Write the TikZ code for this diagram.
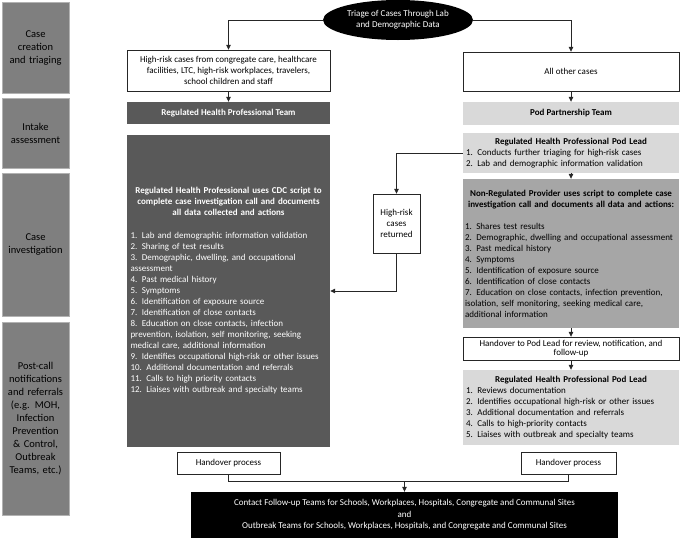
\documentclass[tikz,border=0pt]{standalone}
\usepackage{fontspec}
\setmainfont{Carlito}
\usepackage{tikz}
\usetikzlibrary{positioning,shapes.geometric,arrows.meta}
\setlength{\parindent}{0pt}
\definecolor{sidegray}{HTML}{7F7F7F}
\definecolor{darkgray}{HTML}{595959}
\definecolor{midgray}{HTML}{A6A6A6}
\definecolor{lightgray}{HTML}{D9D9D9}
\definecolor{linegray}{HTML}{262626}

\begin{document}
\begin{tikzpicture}[x=1pt,y=-1pt,>={Triangle[length=5pt,width=4.5pt]},
  side/.style = {fill=sidegray, draw=gray!60, minimum width=67pt, text width=64pt, inner sep=0pt, align=center, font=\fontsize{10.5}{13}\selectfont},
  box/.style = {rectangle, inner sep=0pt, font=\fontsize{9}{11}\selectfont},
  plain/.style = {box, draw=linegray, fill=white, align=center},
  dark/.style = {box, fill=darkgray, text=white},
  light/.style = {box, fill=lightgray},
  mid/.style = {box, fill=midgray},
  blk/.style = {box, fill=black, text=white, align=center},
  conn/.style = {draw=linegray, line width=0.8pt}]
\useasboundingbox (0,0) rectangle (685,544);

% stage labels
\node[side, minimum height=91pt] (s1) at (35.5,47.5) {Case\\ creation\\ and triaging};
\node[side, minimum height=70pt] (s2) at (35.5,133) {Intake\\ assessment};
\node[side, minimum height=143pt] (s3) at (35.5,244.5) {Case\\ investigation};
\node[side, minimum height=193pt] (s4) at (35.5,418.5) {Post-call\\ notifications\\ and referrals\\ (e.g. MOH,\\ Infection\\ Prevention\\ \& Control,\\ Outbreak\\ Teams, etc.)};

% triage
\node[ellipse, fill=black, text=white, minimum width=150pt, minimum height=40pt, inner sep=0pt, align=center, font=\fontsize{9}{11}\selectfont] (tri) at (398,20) {Triage of Cases Through Lab\\ and Demographic Data};

% left column
\node[plain, minimum width=203pt, minimum height=41pt] (hr) at (228.5,70.5) {High-risk cases from congregate care, healthcare\\ facilities, LTC, high-risk workplaces, travelers,\\ school children and staff};
\node[dark, minimum width=203pt, minimum height=22pt, font=\fontsize{9}{11}\selectfont\bfseries] (rhpt) at (228.5,113) {Regulated Health Professional Team};
\node[dark, minimum width=203pt, minimum height=312pt, text width=196pt, align=left] (rhp) at (228.5,291) {{\centering\bfseries Regulated Health Professional uses CDC script to\\ complete case investigation call and documents\\ all data collected and actions\par}\vspace{12pt}
1. Lab and demographic information validation\\
2. Sharing of test results\\
3. Demographic, dwelling, and occupational\\
assessment\\
4. Past medical history\\
5. Symptoms\\
6. Identification of exposure source\\
7. Identification of close contacts\\
8. Education on close contacts, infection\\
prevention, isolation, self monitoring, seeking\\
medical care, additional information\\
9. Identifies occupational high-risk or other issues\\
10. Additional documentation and referrals\\
11. Calls to high priority contacts\\
12. Liaises with outbreak and specialty teams};
\node[plain, minimum width=103pt, minimum height=22pt] (hand1) at (228.5,463) {Handover process};

% returned cases
\node[plain, minimum width=47pt, minimum height=59pt] (hrr) at (396.5,223.5) {High-risk\\ cases\\ returned};

% right column
\node[plain, minimum width=216pt, minimum height=39pt] (other) at (571,71.5) {All other cases};
\node[light, minimum width=216pt, minimum height=23pt, font=\fontsize{9}{11}\selectfont\bfseries] (pod) at (571,113.5) {Pod Partnership Team};
\node[light, minimum width=216pt, minimum height=40pt, text width=210pt, align=left] (lead1) at (571,153) {{\centering\bfseries Regulated Health Professional Pod Lead\par}
1. Conducts further triaging for high-risk cases\\
2. Lab and demographic information validation};
\node[mid, minimum width=216pt, minimum height=149pt, text width=212pt, align=left] (nrp) at (571,253.5) {{\centering\bfseries Non-Regulated Provider uses script to complete case\\ investigation call and documents all data and actions:\par}\vspace{11pt}
1. Shares test results\\
2. Demographic, dwelling and occupational assessment\\
3. Past medical history\\
4. Symptoms\\
5. Identification of exposure source\\
6. Identification of close contacts\\
7. Education on close contacts, infection prevention,\\
isolation, self monitoring, seeking medical care,\\
additional information};
\node[plain, minimum width=216pt, minimum height=23pt, font=\fontsize{9}{9.5}\selectfont] (h2p) at (571,348.5) {Handover to Pod Lead for review, notification, and\\ follow-up};
\node[light, minimum width=216pt, minimum height=75pt, text width=210pt, align=left] (lead2) at (571,407.5) {{\centering\bfseries Regulated Health Professional Pod Lead\par}
1. Reviews documentation\\
2. Identifies occupational high-risk or other issues\\
3. Additional documentation and referrals\\
4. Calls to high-priority contacts\\
5. Liaises with outbreak and specialty teams};
\node[plain, minimum width=95pt, minimum height=22pt] (hand2) at (568.5,463) {Handover process};

% follow-up teams
\node[blk, minimum width=427pt, minimum height=46pt, font=\fontsize{9}{11.5}\selectfont] (teams) at (404.5,515) {Contact Follow-up Teams for Schools, Workplaces, Hospitals, Congregate and Communal Sites\\ and\\ Outbreak Teams for Schools, Workplaces, Hospitals, and Congregate and Communal Sites};
\coordinate (merge) at (404.5,481);

\draw[conn,->] (tri.west) -| (hr.north);
\draw[conn,->] (tri.east) -| (other.north);
\draw[conn,->] (hr) -- (rhpt);
\draw[conn,->] (other) -- (pod);
\draw[conn,->] (lead1.west) -| (hrr.north);
\draw[conn,->] (hrr.south) |- (rhp.east);
\draw[conn,->] (lead1) -- (nrp);
\draw[conn,->] (nrp) -- (h2p);
\draw[conn,->] (h2p) -- (lead2);
\draw[conn] (hand1.south) |- (merge);
\draw[conn] (hand2.south) |- (merge);
\draw[conn,->] (merge) -- (teams.north);
\end{tikzpicture}
\end{document}
